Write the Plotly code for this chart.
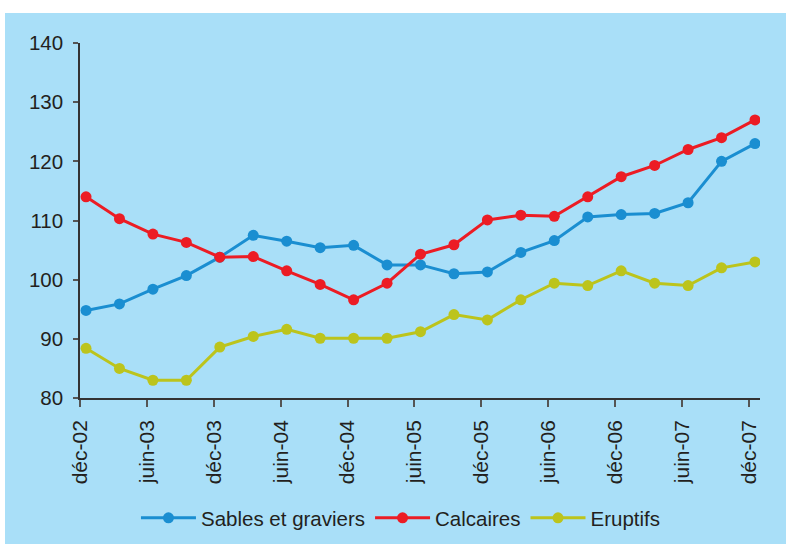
import plotly.graph_objects as go

periods = ["déc-02", "mars-03", "juin-03", "sept-03", "déc-03", "mars-04", "juin-04",
           "sept-04", "déc-04", "mars-05", "juin-05", "sept-05", "déc-05", "mars-06",
           "juin-06", "sept-06", "déc-06", "mars-07", "juin-07", "sept-07", "déc-07"]

sables = [94.8, 95.9, 98.4, 100.7, 103.8, 107.5, 106.5, 105.4, 105.8, 102.5, 102.5,
          101.0, 101.3, 104.6, 106.6, 110.6, 111.0, 111.2, 113.0, 120.0, 123.0]
calcaires = [114.0, 110.3, 107.7, 106.3, 103.8, 103.9, 101.5, 99.2, 96.6, 99.4, 104.3,
             105.9, 110.1, 110.9, 110.7, 114.0, 117.4, 119.3, 122.0, 124.0, 127.0]
eruptifs = [88.4, 85.0, 83.0, 83.0, 88.6, 90.4, 91.6, 90.1, 90.1, 90.1, 91.2,
            94.1, 93.2, 96.6, 99.4, 99.0, 101.5, 99.4, 99.0, 102.0, 103.0]

series_names = ["Sables et graviers", "Calcaires", "Eruptifs"]
colors = ["#1a8ed1", "#ec1c24", "#bcc41c"]
y_ticks = [80, 90, 100, 110, 120, 130, 140]

BG = "#a9dff8"
FONT = "Liberation Sans, Arial, sans-serif"
FS = 20.5

x_idx = list(range(len(periods)))
tick_offset = -0.18
tick_pos = [i + tick_offset for i in x_idx[::2]]
tick_text = periods[::2]

fig = go.Figure()
for name, vals, col in zip(series_names, [sables, calcaires, eruptifs], colors):
    fig.add_trace(go.Scatter(
        x=x_idx, y=vals, name=name, mode="lines+markers",
        line=dict(color=col, width=3),
        marker=dict(color=col, size=11),
    ))

fig.update_layout(
    width=786, height=544,
    margin=dict(l=80, r=26, t=43, b=146, autoexpand=False),
    paper_bgcolor=BG, plot_bgcolor=BG,
    font=dict(family=FONT, size=FS, color="#231f20"),
    showlegend=True,
    legend=dict(orientation="h", x=0.472, xanchor="center", y=-0.338, yanchor="middle",
                bgcolor="rgba(0,0,0,0)", font=dict(size=FS), itemwidth=55,
                tracegroupgap=0),
    xaxis=dict(range=[-0.18, 20.15], tickmode="array", tickvals=tick_pos,
               ticktext=tick_text, tickangle=-90, showgrid=False, zeroline=False,
               showline=True, linecolor="#333333", linewidth=1.5, automargin=False,
               ticks="outside", ticklen=7, tickcolor="#555555", tickwidth=1.5,
               tickfont=dict(size=21), ticklabelstandoff=5),
    yaxis=dict(range=[80, 140], tickvals=y_ticks, showgrid=False, zeroline=False,
               showline=True, linecolor="#333333", linewidth=1.5, automargin=False,
               ticks="outside", ticklen=5, tickcolor="#555555", tickwidth=1.5,
               tickfont=dict(size=FS), ticklabelstandoff=6),
    shapes=[
        dict(type="rect", xref="paper", yref="paper", x0=-0.2, x1=1.1,
             y0=1.0 + 30 / 355, y1=1.2, fillcolor="white", line=dict(width=0),
             layer="below"),
        dict(type="rect", xref="paper", yref="paper", x0=-0.2, x1=-75 / 680,
             y0=-0.5, y1=1.2, fillcolor="white", line=dict(width=0),
             layer="below"),
    ],
)

fig.write_html("out.html", config={"displayModeBar": False},
               post_script="document.body.style.margin='0';document.body.style.overflow='hidden';")
